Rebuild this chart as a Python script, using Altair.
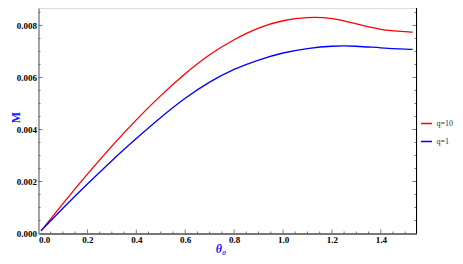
import altair as alt
import pandas as pd

# ---- data ----
theta = [0.01, 0.1, 0.2, 0.3, 0.4, 0.5, 0.6, 0.7, 0.8, 0.9, 1.0, 1.1, 1.2, 1.3, 1.4, 1.5, 1.53]
m_q10 = [0.0001, 0.00115, 0.00228, 0.00336, 0.00437, 0.0053, 0.00614, 0.00687, 0.00745, 0.0079,
         0.00818, 0.0083, 0.00826, 0.00806, 0.00785, 0.00776, 0.00774]
m_q1 = [0.0001, 0.00097, 0.0019, 0.0028, 0.00365, 0.00446, 0.0052, 0.00582, 0.00631, 0.00667,
        0.00694, 0.00711, 0.0072, 0.0072, 0.00714, 0.00709, 0.00708]
series = ["q=10", "q=1"]
colors = ["#ff0000", "#0000ff"]

x_major = [0.0, 0.2, 0.4, 0.6, 0.8, 1.0, 1.2, 1.4]
x_minor = [0.05, 0.1, 0.15, 0.25, 0.3, 0.35, 0.45, 0.5, 0.55, 0.65, 0.7, 0.75,
           0.85, 0.9, 0.95, 1.05, 1.1, 1.15, 1.25, 1.3, 1.35, 1.45, 1.5]
y_major = [0.0, 0.002, 0.004, 0.006, 0.008]
y_minor = [0.0005, 0.001, 0.0015, 0.0025, 0.003, 0.0035, 0.0045, 0.005, 0.0055,
           0.0065, 0.007, 0.0075, 0.0085]

X_MAX = 1.546
Y_MAX = 0.00867
W = 378
H = 225.5

# ---- tables ----
lines = pd.DataFrame({
    "theta": theta * 2,
    "M": m_q10 + m_q1,
    "q": [series[0]] * len(theta) + [series[1]] * len(theta),
})

px_x = X_MAX / W
px_y = Y_MAX / H
maj, mnr = 4, 2

bottom_ticks = pd.DataFrame(
    [{"theta": v, "M": 0.0, "M2": maj * px_y} for v in x_major[1:]]
    + [{"theta": v, "M": 0.0, "M2": mnr * px_y} for v in x_minor]
)
left_ticks = pd.DataFrame(
    [{"M": v, "theta": 0.0, "theta2": maj * px_x} for v in y_major[1:]]
    + [{"M": v, "theta": 0.0, "theta2": mnr * px_x} for v in y_minor]
)
right_ticks = pd.DataFrame(
    [{"M": v, "theta": X_MAX - maj * px_x, "theta2": X_MAX} for v in y_major[1:]]
    + [{"M": v, "theta": X_MAX - mnr * px_x, "theta2": X_MAX} for v in y_minor]
)
right_border = pd.DataFrame([{"theta": X_MAX, "M": 0.0, "M2": Y_MAX}])

xs = alt.Scale(domain=[0, X_MAX], nice=False, zero=False)
ys = alt.Scale(domain=[0, Y_MAX], nice=False, zero=False)

FONT = "Liberation Serif"

x_axis = alt.Axis(values=x_major, format=".1f", title="θ₀",
                  labelFont=FONT, labelFontWeight="bold", labelFontSize=9,
                  labelColor="#000", labelPadding=2, ticks=False, grid=False,
                  domainColor="#000", domainWidth=1,
                  titleFont=FONT, titleFontStyle="italic", titleFontWeight="bold",
                  titleFontSize=12, titleColor="#1a1aff",
                  titleX=182, titleY=19, titleBaseline="alphabetic", titleAlign="center")
y_axis = alt.Axis(values=y_major, format=".3f", title="M",
                  labelFont=FONT, labelFontWeight="bold", labelFontSize=9,
                  labelColor="#000", labelPadding=2, ticks=False, grid=False,
                  domainColor="#8c8c8c", domainWidth=1.5,
                  titleFont=FONT, titleFontWeight="bold", titleFontSize=12,
                  titleColor="#1a1aff", titleAngle=-90,
                  titleX=-23, titleY=109, titleBaseline="middle", titleAlign="center")

X = alt.X("theta:Q", scale=xs, axis=x_axis, title="θ₀")
Y = alt.Y("M:Q", scale=ys, axis=y_axis, title="M")

line_layer = alt.Chart(lines).mark_line(strokeWidth=1.3, interpolate="natural").encode(
    x=X, y=Y,
    color=alt.Color("q:N", scale=alt.Scale(domain=series, range=colors),
                    sort=series,
                    legend=alt.Legend(title=None, orient="none", legendX=381.5, legendY=109,
                                      symbolType="stroke", symbolSize=121,
                                      symbolStrokeWidth=1.5, labelFont=FONT,
                                      labelFontSize=8, labelColor="#333",
                                      labelOffset=3.5, rowPadding=7, padding=0)),
)

tick_style = dict(color="#555", strokeWidth=0.8)

bt = alt.Chart(bottom_ticks).mark_rule(**tick_style).encode(x=X, y=Y, y2="M2:Q")
lt = alt.Chart(left_ticks).mark_rule(**tick_style).encode(y=Y, x=X, x2="theta2:Q")
rt = alt.Chart(right_ticks).mark_rule(**tick_style).encode(y=Y, x=X, x2="theta2:Q")
rb = alt.Chart(right_border).mark_rule(color="#000", strokeWidth=1).encode(x=X, y=Y, y2="M2:Q")

chart = alt.layer(line_layer, bt, lt, rt, rb).properties(
    width=W, height=H,
    autosize=alt.AutoSizeParams(type="none"),
    padding={"left": 30.5, "top": 0, "right": 38.5, "bottom": 22.5},
).configure_view(strokeWidth=0).configure(background="white")

chart.save("out.html", embed_options={"renderer": "svg", "actions": False})
